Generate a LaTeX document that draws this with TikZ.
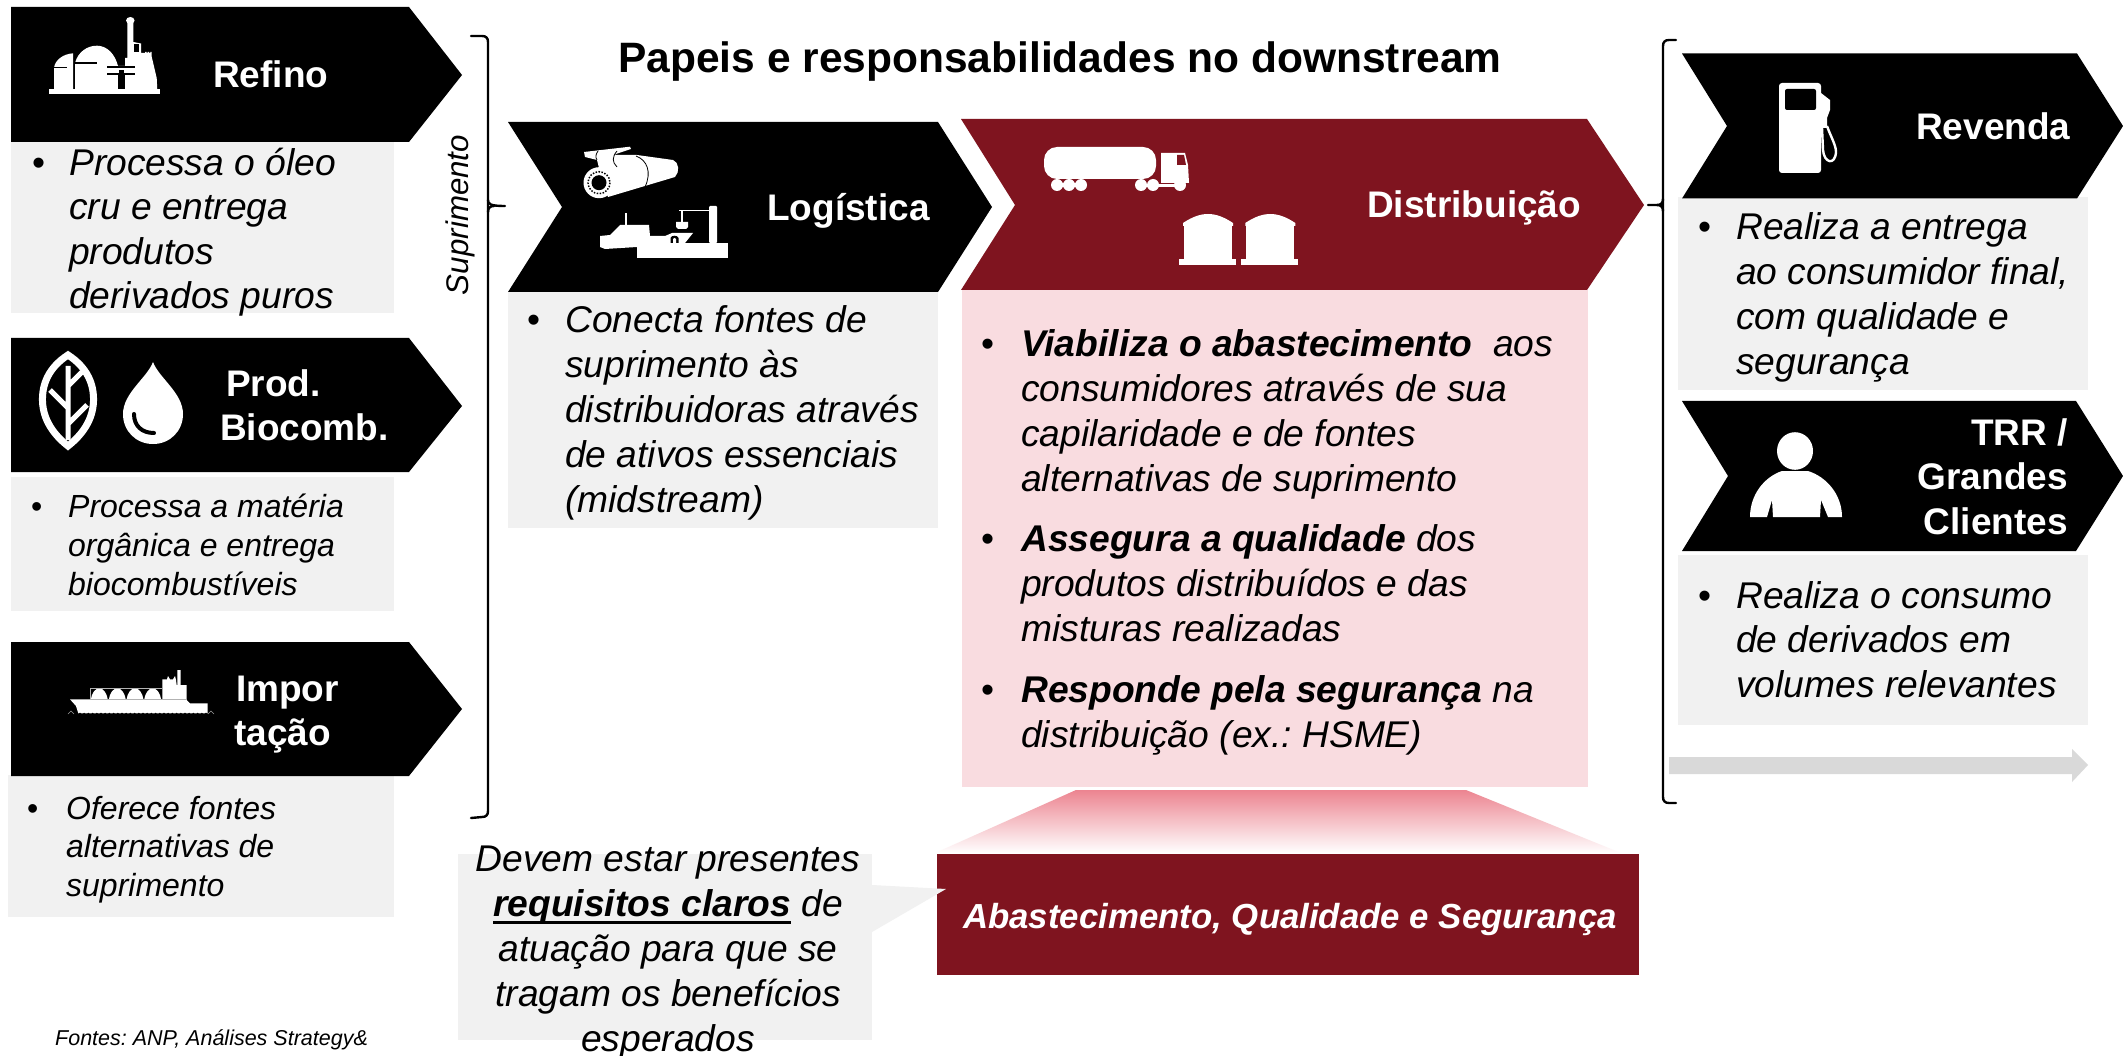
\documentclass[tikz,border=0pt]{standalone}
\usepackage{fontspec}
\setmainfont{Liberation Sans}
\usetikzlibrary{shadings}
\AtBeginDocument{\frenchspacing}
\definecolor{dred}{HTML}{7F141F}
\definecolor{pinkbox}{HTML}{F9DCE0}
\definecolor{greybox}{HTML}{F1F1F1}
\definecolor{arrowgrey}{HTML}{D9D9D9}
\definecolor{grad}{HTML}{EC8490}
\newcommand\blockL[3]{\fontsize{#1}{#2}\selectfont\begin{tabular}[t]{@{}l@{}}#3\end{tabular}}
\newcommand\blockC[3]{\fontsize{#1}{#2}\selectfont\begin{tabular}[t]{@{}c@{}}#3\end{tabular}}
\newcommand\blockR[3]{\fontsize{#1}{#2}\selectfont\begin{tabular}[t]{@{}r@{}}#3\end{tabular}}
\newlength\ind
\newcommand\B{\makebox[\ind][l]{\upshape •}}
\newcommand\I{\hspace*{\ind}}
\newcommand\ulthick[1]{\setbox0\hbox{#1}\rlap{\rule[-8pt]{\wd0}{3.2pt}}\box0{}}
\tikzset{
  x=1pt,y=-1pt,
  lbl/.style={inner sep=0pt,anchor=base west,text=white,font=\bfseries},
  lblr/.style={inner sep=0pt,anchor=base east,text=white,font=\bfseries},
  body/.style={inner sep=0pt,anchor=base west,font=\itshape},
  grey/.style={fill=greybox},
  chev/.style={fill=black},
  ico/.style={fill=white},
  brace/.style={draw=black,line width=2.4pt,line cap=round,fill=none},
}
\begin{document}
\begin{tikzpicture}
\useasboundingbox (0,0) rectangle (2123,1056);
\fill[white] (0,0) rectangle (2123,1056);

% grey and pink boxes
\path[grey] (11,142) rectangle (394,313);
\path[grey] (11,477) rectangle (394,611);
\path[grey] (8,775) rectangle (394,917);
\path[grey] (508,292) rectangle (938,528);
\path[grey] (1678,197) rectangle (2088,390);
\path[grey] (1678,555) rectangle (2088,725);
\fill[pinkbox] (962,290) rectangle (1588,787);

% chevrons
\path[chev] (11,7) -- (409,7) -- (462,75) -- (409,142) -- (11,142) -- cycle;
\path[chev] (11,338) -- (409,338) -- (462,406) -- (409,472) -- (11,472) -- cycle;
\path[chev] (11,642) -- (409,642) -- (462,709) -- (409,776) -- (11,776) -- cycle;
\path[chev] (508,122) -- (938,122) -- (992,207) -- (938,292) -- (508,292) -- (562,207) -- cycle;
\fill[dred] (961,119) -- (1587,119) -- (1644,205) -- (1587,290) -- (961,290) -- (1015,205) -- cycle;
\path[chev] (1682,53.5) -- (2077,53.5) -- (2123,126) -- (2077,198.5) -- (1682,198.5) -- (1727,126) -- cycle;
\path[chev] (1682,401) -- (2076,401) -- (2123,476) -- (2076,551) -- (1682,551) -- (1728,476) -- cycle;

% braces
\draw[brace] (471,36) -- (482,36) .. controls (486,36) and (488,38) .. (488,42) -- (488,811) .. controls (488,815) and (486,817) .. (482,817) -- (471,818);
\draw[brace] (488,200) .. controls (488,204) and (490,206) .. (505,206);
\draw[brace] (488,212) .. controls (488,208) and (490,206) .. (494,206);
\draw[brace] (1676,40) -- (1669,40) .. controls (1665,40) and (1663,42) .. (1663,46) -- (1663,797) .. controls (1663,801) and (1665,803) .. (1669,803) -- (1676,803);
\draw[brace] (1648,205) -- (1657,205) .. controls (1661,205) and (1663,203) .. (1663,199);
\draw[brace] (1657,205) .. controls (1661,205) and (1663,207) .. (1663,211);

% grey arrow
\fill[arrowgrey] (1669,757) -- (2072,757) -- (2072,749) -- (2088,765) -- (2072,782) -- (2072,774) -- (1669,774) -- cycle;

% funnel and bottom box
\shade[top color=grad,bottom color=white] (1076,790) -- (1466,790) -- (1621,853) -- (935,853) -- cycle;
\fill[dred] (937,854) rectangle (1639,975);
\path[grey] (458,854) rectangle (872,1040);
\path[grey] (872,885) -- (946,889) -- (872,932) -- cycle;

% ---------- refinery icon
\fill[ico] (49,89) rectangle (160,94.3);
\fill[ico] (54,90) -- (54,68) .. controls (55,60) and (63,54) .. (73,53.3) -- (73,90) -- cycle;
\fill[ico] (75,90) -- (75,63) .. controls (78,52) and (87,45.7) .. (97,45.7) .. controls (107,45.7) and (115,54) .. (118,66) -- (125,66) -- (125,58) -- (127.3,58) -- (127.3,23) -- (133.3,23) -- (133.3,42) -- (141,43.5) -- (141,53) -- (145,53) -- (145,52) -- (146.5,52) -- (146.5,53) -- (147.7,53) -- (147.7,52) -- (149.2,52) -- (149.2,53) -- (150.3,53) -- (150.3,52) -- (151.7,52) -- (151.7,56.7) -- (156.7,78) -- (157.3,90) -- cycle;
\fill[ico] (130.3,20.5) circle[x radius=4.3,y radius=3.5];
\fill[black] (134.3,44) rectangle (139,51.7);
\fill[black] (54,67) rectangle (67,68.5);
\fill[black] (75,62.5) rectangle (97,64);
\fill[black] (107,65.8) rectangle (135,67.6);
\fill[black] (107,73.2) rectangle (135,75);
\fill[black] (118,75) rectangle (124.5,89);
\fill[black] (119,70) rectangle (123.5,73.2);

% ---------- leaf and drop
\draw[white,line width=7pt,line join=miter] (68,355) .. controls (88,368) and (94,385) .. (93.5,401) .. controls (93,420) and (82,435) .. (68,446) .. controls (54,435) and (43,420) .. (42.5,401) .. controls (42,385) and (48,368) .. (68,355) -- cycle;
\draw[white,line width=5pt] (68,366) -- (68,440) (50,390) -- (68,408) (68,386) -- (82,372) (68,424) -- (87,405);
\fill[ico] (153,362) .. controls (147,378) and (123,393) .. (123,414) .. controls (123,431) and (136,444) .. (153,444) .. controls (170,444) and (183,431) .. (183,414) .. controls (183,393) and (159,378) .. (153,362) -- cycle;
\draw[black,line width=4pt,line cap=round] (134,414) .. controls (134,426) and (142,433) .. (154,433);

% ---------- ship
\fill[ico] (70,699.3) -- (162.3,700) -- (162.3,679.3) -- (167,679.3) -- (168,676) -- (170,679.3) -- (173,679.3) -- (175,676) -- (176,680) -- (176.7,685) -- (177.3,685) -- (177.3,670) -- (180.7,670) -- (180.7,685) -- (186.7,685) -- (186.7,700) -- (190,703.3) -- (207.7,703.3) -- (207.7,713.3) -- (78.3,713.3) -- (76,706) -- cycle;
\foreach \c in {99.3,117.3,135,152.7}
  \fill[ico] (\c-8.5,699.5) .. controls (\c-7.5,693) and (\c-4,688.3) .. (\c,688.3) .. controls (\c+4,688.3) and (\c+7.5,693) .. (\c+8.5,699.5) -- cycle;
\draw[white!70!black,line width=0.8pt] (90,688.3) -- (162,688.3) (90,688.3) -- (90,699.5) (90,699.8) -- (187,699.8);
\foreach \w in {80,84.2,...,207} \fill[black] (\w,714) circle[radius=1.3];
\draw[white!60!black,line width=0.5pt] (68,714) -- (71,711) -- (74,714) (208,714) -- (211,711) -- (214,714);

% ---------- pipe
\fill[ico] (584,152) -- (630,146.7) -- (631,149) -- (613,155) -- (637,155) -- (673,160) .. controls (679,162) and (680,172) .. (675,177) -- (608,197) -- (599,168) -- (597,160) -- (585,157) -- cycle;
\draw[black,line width=0.8pt] (598,151) .. controls (596,154) and (595,157) .. (597,160) (617,151) .. controls (612,157) and (612,162) .. (617,167) (636,156) .. controls (647,160) and (652,172) .. (645,187);
\fill[ico] (599,182.7) circle[radius=15.5];
\draw[black,line width=1.5pt,dash pattern=on 1.5pt off 1.5pt] (599,182.7) circle[radius=11];
\fill[black] (599,182.7) circle[radius=7.5];

% ---------- dock
\fill[ico] (637,243) rectangle (728,258);
\fill[ico,rounded corners=1pt] (709,206) rectangle (717,243);
\fill[ico] (679,210) rectangle (710,211.5);
\fill[ico] (681,211) rectangle (682.5,222);
\fill[ico] (676,222) -- (688,222) -- (688,227) -- (686,229) -- (678,229) -- (676,227) -- cycle;
\fill[ico] (600,236) -- (610,235) -- (620,225) -- (649,225) -- (650,236) -- (665,236) -- (672,233) -- (693,233) -- (685,243) -- (637,243) -- (637,247) -- (605,249) -- (600,247) -- cycle;
\fill[ico] (625,213) rectangle (627,225);
\fill[black] (670.5,243) -- (670.5,238) .. controls (671,235) and (678,235) .. (678.5,238) -- (678.5,243) -- cycle;
\fill[ico] (673,243) -- (673,239) .. controls (673.5,237.5) and (675.5,237.5) .. (676,239) -- (676,243) -- cycle;

% ---------- truck
\fill[ico,rounded corners=13pt] (1044,147) rectangle (1156,179);
\fill[ico] (1161,153) -- (1185,153) -- (1188,165) -- (1189,183) -- (1161,183) -- cycle;
\fill[dred] (1177,155) -- (1184,155) -- (1186,165) -- (1177,165) -- cycle;
\foreach \w in {1057,1069,1081,1141,1153,1180} \fill[ico] (\w,185) circle[radius=6];
\fill[ico] (1057,183) rectangle (1081,187);
\fill[ico] (1141,184) rectangle (1180,187);

% ---------- tanks
\foreach \dx in {0,62.3}{
  \fill[ico] (1184+\dx,225) rectangle (1232+\dx,259);
  \fill[ico] (1179+\dx,259) rectangle (1236+\dx,265);
  \fill[ico] (1183+\dx,226) -- (1183+\dx,223) .. controls (1192+\dx,217) and (1200+\dx,214) .. (1208+\dx,214) .. controls (1216+\dx,214) and (1224+\dx,217) .. (1233+\dx,223) -- (1233+\dx,226) -- cycle;
}

% ---------- pump
\fill[ico,rounded corners=3pt] (1779,83) rectangle (1821,173);
\fill[black,rounded corners=2pt] (1785,89) rectangle (1816,110);
\fill[ico] (1821,93) -- (1830,100) -- (1830,110) -- (1827,118) -- (1827,128) -- (1821,128) -- cycle;
\draw[white,line width=2.4pt,line join=round] (1822,128) -- (1823,150) .. controls (1824,163) and (1835,166) .. (1836,152) .. controls (1836,145) and (1830,135) .. (1827,126);

% ---------- person
\fill[ico] (1795,451) circle[x radius=18,y radius=18.8];
\fill[ico] (1750,517) .. controls (1750,495) and (1764,477) .. (1782,471) -- (1808,471) .. controls (1827,477) and (1842,495) .. (1842,517) -- (1828,517) -- (1821,500) -- (1820,517) -- (1773,517) -- (1772,500) -- (1767,517) -- cycle;

% ---------- labels
\node[lbl] (refino) at (213,88) {\fontsize{37}{44}\selectfont Refino};
\node[lbl] (prod) at (226,397) {\fontsize{37}{44}\selectfont Prod.};
\node[lbl] (biocomb) at (220,440) {\fontsize{37}{44}\selectfont Biocomb.};
\node[lbl] (impor) at (236,701) {\fontsize{37}{44}\selectfont Impor};
\node[lbl] (tacao) at (234,745) {\fontsize{37}{44}\selectfont tação};
\node[lbl] (logistica) at (767,221) {\fontsize{37}{44}\selectfont Logística};
\node[lbl] (distribuicao) at (1367,218) {\fontsize{37}{44}\selectfont Distribuição};
\node[lbl] (revenda) at (1916,139.5) {\fontsize{37}{44}\selectfont Revenda};
\node[lblr] (trr) at (2068,445) {\blockR{37}{44.8}{TRR /\\Grandes\\Clientes}};

\node[inner sep=0pt,anchor=base,font=\bfseries] (title) at (1060,73) {\fontsize{42.5}{50}\selectfont Papeis e responsabilidades no downstream};
\node[inner sep=0pt,anchor=base,rotate=90,font=\itshape] (suprimento) at (468,215) {\fontsize{31.3}{38}\selectfont Suprimento};

% ---------- body texts
\node[body] (trefino) at (32,175.5) {\setlength\ind{37pt}\blockL{37.2}{44.5}{\B Processa o óleo\\\I cru e entrega\\\I produtos\\\I derivados puros}};
\node[body] (tprod) at (31,517) {\setlength\ind{37pt}\blockL{32}{39}{\B Processa a matéria\\\I orgânica e entrega\\\I biocombustíveis}};
\node[body] (timport) at (27,819) {\setlength\ind{39pt}\blockL{32}{38.5}{\B Oferece fontes\\\I alternativas de\\\I suprimento}};
\node[body] (tlog) at (527,333) {\setlength\ind{38pt}\blockL{37.2}{44.8}{\B Conecta fontes de\\\I suprimento às\\\I distribuidoras através\\\I de ativos essenciais\\\I (midstream)}};
\node[body] (tdist) at (981,357) {\setlength\ind{40pt}\blockL{37.2}{45}{\B\textbf{Viabiliza o abastecimento}\ \ aos\\\I consumidores através de sua\\\I capilaridade e de fontes\\\I alternativas de suprimento\\[15pt]\B\textbf{Assegura a qualidade} dos\\\I produtos distribuídos e das\\\I misturas realizadas\\[16pt]\B\textbf{Responde pela segurança} na\\\I distribuição (ex.: HSME)}};
\node[body] (trev) at (1698,240) {\setlength\ind{38pt}\blockL{37.2}{44.8}{\B Realiza a entrega\\\I ao consumidor final,\\\I com qualidade e\\\I segurança}};
\node[body] (ttrr) at (1698,608) {\setlength\ind{38pt}\blockL{37.2}{44.6}{\B Realiza o consumo\\\I de derivados em\\\I volumes relevantes}};
\node[inner sep=0pt,anchor=base,font=\itshape] (tcallout) at (668,871) {\blockC{37.2}{45}{Devem estar presentes\\\ulthick{\textbf{requisitos claros}} de\\atuação para que se\\tragam os benefícios\\esperados}};
\node[inner sep=0pt,anchor=base,text=white,font=\bfseries\itshape] (tbar) at (1290,928) {\fontsize{34.8}{42}\selectfont Abastecimento, Qualidade e Segurança};
\node[inner sep=0pt,anchor=base west,font=\itshape] (fontes) at (55,1045) {\fontsize{21.5}{26}\selectfont Fontes: ANP, Análises Strategy\&};
\end{tikzpicture}
\end{document}
